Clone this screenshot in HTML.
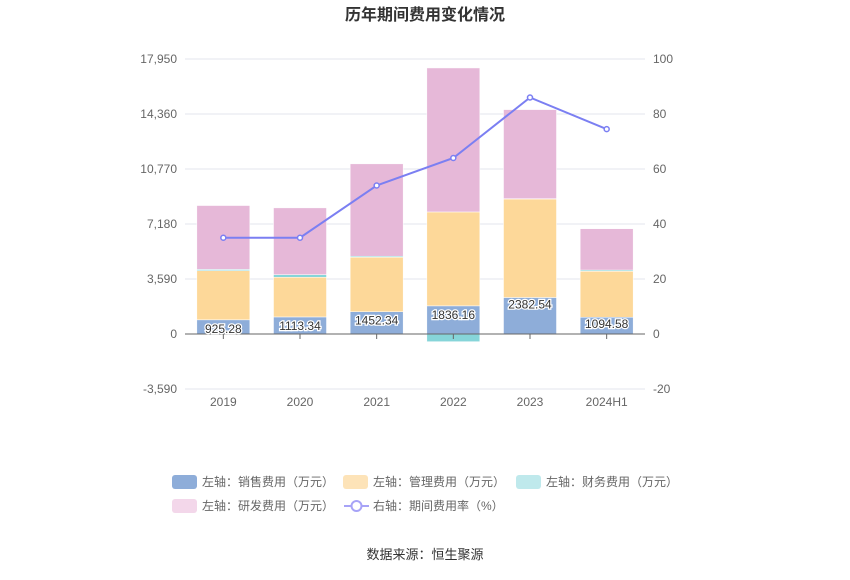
<!DOCTYPE html>
<html><head><meta charset="utf-8"><style>
body{margin:0;background:#fff;font-family:"Liberation Sans","Noto Sans CJK SC",sans-serif;}
svg text{font-family:"Liberation Sans","Noto Sans CJK SC",sans-serif;}
</style></head><body>
<svg id="chart" width="850" height="575" xmlns="http://www.w3.org/2000/svg">
<text x="425" y="20" text-anchor="middle" font-size="16" font-weight="bold" fill="#333">历年期间费用变化情况</text>
<g id="grid"></g><g id="bars"></g><g id="axes"></g><g id="line"></g><g id="labels"></g>
<g font-size="12" fill="#666">
<g><rect x="172" y="475" width="25" height="14" rx="3" fill="#8eadd9"/><text x="202" y="486">左轴：销售费用（万元）</text></g>
<g><rect x="343" y="475" width="25" height="14" rx="3" fill="#fde3b8"/><text x="373" y="486">左轴：管理费用（万元）</text></g>
<g><rect x="516" y="475" width="25" height="14" rx="3" fill="#bfe9ec"/><text x="546" y="486">左轴：财务费用（万元）</text></g>
<g><rect x="172" y="499" width="25" height="14" rx="3" fill="#f3d7ea"/><text x="202" y="510">左轴：研发费用（万元）</text></g>
<g><line x1="344" y1="506" x2="369" y2="506" stroke="#a7a3f7" stroke-width="2"/><circle cx="356.5" cy="506" r="5" fill="#fff" stroke="#a7a3f7" stroke-width="2"/><text x="373" y="510">右轴：期间费用率（%）</text></g>
</g>
<text x="425" y="559" text-anchor="middle" font-size="13" fill="#333">数据来源：恒生聚源</text>
</svg>
<script>
const categories=["2019","2020","2021","2022","2023","2024H1"];
const sales=[925.28,1113.34,1452.34,1836.16,2382.54,1094.58];
const admin=[3210,2590,3560,6130,6430,3000];
const finance=[80,170,65,-500,20,80];
const rd=[4170,4360,6030,9400,5815,2700];
const rate=[35,35,54,64,86,74.5];
const leftTicks=[-3590,0,3590,7180,10770,14360,17950];
const rightTicks=[-20,0,20,40,60,80,100];
const NS="http://www.w3.org/2000/svg";
const yTop=59,zero=334,L=185,R=645;
const yL=v=>zero-(v/17950)*(zero-yTop);
const yR=v=>zero-(v/100)*(zero-yTop);
const step=(R-L)/categories.length;
const xC=i=>L+step*(i+0.5);
const bw=53;
function mk(tag,attrs,parent){const e=document.createElementNS(NS,tag);for(const k in attrs)e.setAttribute(k,attrs[k]);document.getElementById(parent).appendChild(e);return e;}
leftTicks.forEach((t,i)=>{
 const y=yL(t);
 const g=mk('line',{x1:L,x2:R,y1:y,y2:y,stroke:t===0?'#666':'#e3e6ee','stroke-width':1},t===0?'axes':'grid');
 
 
 const tl=mk('text',{x:177,y:y+4,'text-anchor':'end','font-size':12,fill:'#666'},'axes');tl.textContent=t.toLocaleString('en-US');
 
 
 const tr=mk('text',{x:653,y:yR(rightTicks[i])+4,'font-size':12,fill:'#666'},'axes');tr.textContent=rightTicks[i];
 
 
});
const colors=['#8eadd9','#fdd899','#86d5d9','#e6b8d8'];
const names=['sales','admin','finance','rd'];
categories.forEach((c,i)=>{
 const x=xC(i)-bw/2;
 let pos=0;
 [sales,admin,finance,rd].forEach((arr,k)=>{
  const v=arr[i];let y1,y2;
  if(v>=0){y1=yL(pos+v);y2=yL(pos);pos+=v;}else{y1=yL(0);y2=yL(v);}
  const r=mk('rect',{x:x,y:y1,width:bw,height:Math.max(0,y2-y1),fill:colors[k],stroke:'#fff','stroke-width':0.5},'bars');
  
  
 });
 const lb=mk('text',{x:xC(i),y:yL(sales[i])+(i<4?13:11),'text-anchor':'middle','font-size':12,fill:'#333',stroke:'#fff','stroke-width':2.5,'paint-order':'stroke'},'labels');lb.textContent=sales[i].toFixed(2);
 
 
 const tk=mk('line',{x1:xC(i),x2:xC(i),y1:zero,y2:zero+5,stroke:'#666'},'axes');
 
 
 const xl=mk('text',{x:xC(i),y:406,'text-anchor':'middle','font-size':12,fill:'#666'},'axes');xl.textContent=c;
 
 
});
const pl=mk('polyline',{points:rate.map((v,i)=>xC(i)+','+yR(v)).join(' '),fill:'none',stroke:'#7b7ff2','stroke-width':2},'line');


rate.forEach((v,i)=>{const p=mk('circle',{cx:xC(i),cy:yR(v),r:2.5,fill:'#fff',stroke:'#7b7ff2','stroke-width':1.5},'line');
 
 });
</script>
</body></html>
